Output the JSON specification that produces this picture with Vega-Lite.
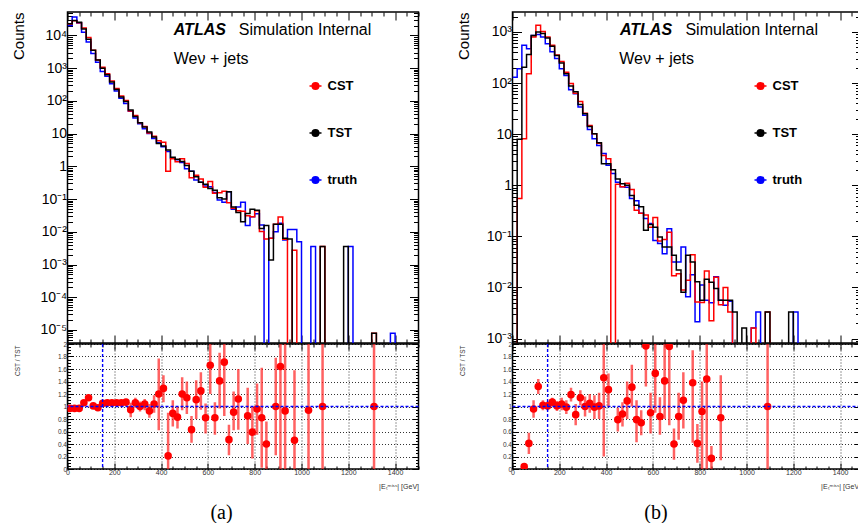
{
  "$schema": "https://vega.github.io/schema/vega-lite/v6.json",
  "padding": {"left": 10.5, "top": 10, "right": 0, "bottom": 0},
  "background": "white",
  "bounds": "full",
  "spacing": 35,
  "resolve": {"scale": {"color": "independent"}, "legend": {"color": "independent"}},
  "config": {
    "font": "Liberation Sans",
    "view": {"stroke": "black", "strokeWidth": 1.5},
    "axis": {"domain": false, "grid": false, "tickColor": "black", "tickWidth": 1, "labelColor": "black", "titleColor": "black", "labelFont": "Liberation Sans", "titleFont": "Liberation Sans", "titleFontWeight": "normal", "labelOverlap": false, "labelFlush": false, "labelBound": false}
  },
  "datasets": {
    "histA": [
      {"x":0,"TST":22900,"CST":22400,"truth":20000},
      {"x":20,"TST":28800,"CST":28200,"truth":36300},
      {"x":40,"TST":25100,"CST":24500,"truth":24000},
      {"x":60,"TST":15800,"CST":17000,"truth":12600},
      {"x":80,"TST":7590,"CST":8710,"truth":6310},
      {"x":100,"TST":3550,"CST":3550,"truth":2820},
      {"x":120,"TST":1780,"CST":1780,"truth":1510},
      {"x":140,"TST":1000,"CST":1070,"truth":794},
      {"x":160,"TST":631,"CST":676,"truth":562},
      {"x":180,"TST":380,"CST":407,"truth":331},
      {"x":200,"TST":224,"CST":240,"truth":200},
      {"x":220,"TST":132,"CST":141,"truth":120},
      {"x":240,"TST":95,"CST":102,"truth":83},
      {"x":260,"TST":52.5,"CST":49,"truth":47.9},
      {"x":280,"TST":33.1,"CST":35.5,"truth":30.2},
      {"x":300,"TST":21.4,"CST":21.4,"truth":20},
      {"x":320,"TST":15.8,"CST":16.6,"truth":14.1},
      {"x":340,"TST":11.2,"CST":10.5,"truth":10},
      {"x":360,"TST":7.94,"CST":8.3,"truth":7.08},
      {"x":380,"TST":5.01,"CST":6.0,"truth":5.25},
      {"x":400,"TST":4.17,"CST":5.4,"truth":3.98},
      {"x":420,"TST":3.16,"CST":0.71,"truth":2.82},
      {"x":440,"TST":1.91,"CST":1.7,"truth":1.78},
      {"x":460,"TST":1.66,"CST":1.38,"truth":1.58},
      {"x":480,"TST":1.41,"CST":1.7,"truth":1.32},
      {"x":500,"TST":1.07,"CST":1.23,"truth":0.851},
      {"x":520,"TST":0.708,"CST":0.447,"truth":0.708},
      {"x":540,"TST":0.479,"CST":0.537,"truth":0.38},
      {"x":560,"TST":0.324,"CST":0.407,"truth":0.324},
      {"x":580,"TST":0.282,"CST":0.229,"truth":0.251},
      {"x":600,"TST":0.209,"CST":0.347,"truth":0.24},
      {"x":620,"TST":0.186,"CST":0.151,"truth":0.158},
      {"x":640,"TST":0.11,"CST":0.155,"truth":0.0933},
      {"x":660,"TST":0.1,"CST":0.174,"truth":0.0794},
      {"x":680,"TST":0.166,"CST":0.0776,"truth":0.166},
      {"x":700,"TST":0.0575,"CST":0.0525,"truth":0.049},
      {"x":720,"TST":0.0389,"CST":0.0437,"truth":0.0575},
      {"x":740,"TST":0.0204,"CST":0.0427,"truth":0.0794},
      {"x":760,"TST":0.0363,"CST":0.0309,"truth":0.0155},
      {"x":780,"TST":0.049,"CST":0.0288,"truth":0.0288},
      {"x":800,"TST":0.0457,"CST":0.0437,"truth":0.0355},
      {"x":820,"TST":0.0126,"CST":0.0102,"truth":0.0162},
      {"x":840,"TST":0.0155,"CST":0.006,"truth":1e-9},
      {"x":860,"TST":0.00138,"CST":0.0063,"truth":0.0063},
      {"x":880,"TST":0.017,"CST":0.017,"truth":0.01},
      {"x":900,"TST":0.017,"CST":0.0282,"truth":0.0182},
      {"x":920,"TST":0.0063,"CST":0.0059,"truth":0.0056},
      {"x":940,"TST":0.006,"CST":1e-9,"truth":0.0117},
      {"x":960,"TST":1e-9,"CST":0.00275,"truth":0.0117},
      {"x":980,"TST":1e-9,"CST":1e-9,"truth":0.005},
      {"x":1000,"TST":1e-9,"CST":1e-9,"truth":1e-9},
      {"x":1020,"TST":1e-9,"CST":1e-9,"truth":1e-9},
      {"x":1040,"TST":1e-9,"CST":1e-9,"truth":0.00355},
      {"x":1060,"TST":1e-9,"CST":1e-9,"truth":1e-9},
      {"x":1080,"TST":0.00355,"CST":0.00355,"truth":1e-9},
      {"x":1100,"TST":1e-9,"CST":1e-9,"truth":1e-9},
      {"x":1120,"TST":1e-9,"CST":1e-9,"truth":1e-9},
      {"x":1140,"TST":1e-9,"CST":1e-9,"truth":1e-9},
      {"x":1160,"TST":1e-9,"CST":1e-9,"truth":1e-9},
      {"x":1180,"TST":0.00355,"CST":1e-9,"truth":1e-9},
      {"x":1200,"TST":1e-9,"CST":1e-9,"truth":0.00355},
      {"x":1220,"TST":1e-9,"CST":1e-9,"truth":1e-9},
      {"x":1240,"TST":1e-9,"CST":1e-9,"truth":1e-9},
      {"x":1260,"TST":1e-9,"CST":1e-9,"truth":1e-9},
      {"x":1280,"TST":1e-9,"CST":1e-9,"truth":1e-9},
      {"x":1300,"TST":7.9e-6,"CST":7.9e-6,"truth":1e-9},
      {"x":1320,"TST":1e-9,"CST":1e-9,"truth":1e-9},
      {"x":1340,"TST":1e-9,"CST":1e-9,"truth":1e-9},
      {"x":1360,"TST":1e-9,"CST":1e-9,"truth":1e-9},
      {"x":1380,"TST":1e-9,"CST":1e-9,"truth":7.9e-6},
      {"x":1400,"TST":1e-9,"CST":1e-9,"truth":1e-9},
      {"x":1420,"TST":1e-9,"CST":1e-9,"truth":1e-9},
      {"x":1440,"TST":1e-9,"CST":1e-9,"truth":1e-9},
      {"x":1460,"TST":1e-9,"CST":1e-9,"truth":1e-9},
      {"x":1480,"TST":1e-9,"CST":1e-9,"truth":1e-9},
      {"x":1500,"TST":1e-9,"CST":1e-9,"truth":1e-9}
    ],
    "histB": [
      {"x":0,"TST":1e-9,"CST":1e-9,"truth":129},
      {"x":20,"TST":7.94,"CST":0.55,"truth":191},
      {"x":40,"TST":204,"CST":8.1,"truth":550},
      {"x":60,"TST":363,"CST":151,"truth":468},
      {"x":80,"TST":851,"CST":794,"truth":851},
      {"x":100,"TST":1000,"CST":1350,"truth":891},
      {"x":120,"TST":933,"CST":1020,"truth":794},
      {"x":140,"TST":759,"CST":794,"truth":589},
      {"x":160,"TST":525,"CST":550,"truth":407},
      {"x":180,"TST":347,"CST":355,"truth":302},
      {"x":200,"TST":245,"CST":263,"truth":191},
      {"x":220,"TST":151,"CST":162,"truth":141},
      {"x":240,"TST":87,"CST":98,"truth":74},
      {"x":260,"TST":67.6,"CST":63,"truth":61.7},
      {"x":280,"TST":38,"CST":43.7,"truth":33.9},
      {"x":300,"TST":25.1,"CST":25.7,"truth":23.4},
      {"x":320,"TST":14.1,"CST":14.8,"truth":12.3},
      {"x":340,"TST":10.2,"CST":10.2,"truth":8.1},
      {"x":360,"TST":6.76,"CST":6.6,"truth":6.0},
      {"x":380,"TST":2.63,"CST":3.8,"truth":4.17},
      {"x":400,"TST":2.63,"CST":3.31,"truth":2.45},
      {"x":420,"TST":2.0,"CST":1e-9,"truth":1.7},
      {"x":440,"TST":1.32,"CST":1.05,"truth":1.15},
      {"x":460,"TST":1.07,"CST":0.93,"truth":0.93},
      {"x":480,"TST":1.0,"CST":1.1,"truth":0.91},
      {"x":500,"TST":0.631,"CST":0.83,"truth":0.55},
      {"x":520,"TST":0.407,"CST":0.324,"truth":0.5},
      {"x":540,"TST":0.38,"CST":0.282,"truth":0.282},
      {"x":560,"TST":0.132,"CST":0.263,"truth":0.224},
      {"x":580,"TST":0.17,"CST":0.151,"truth":0.178},
      {"x":600,"TST":0.151,"CST":0.234,"truth":0.0832},
      {"x":620,"TST":0.0977,"CST":0.0813,"truth":0.0724},
      {"x":640,"TST":0.0617,"CST":0.0871,"truth":0.0457},
      {"x":660,"TST":0.0617,"CST":0.12,"truth":0.141},
      {"x":680,"TST":0.0427,"CST":0.017,"truth":0.0316},
      {"x":700,"TST":0.0219,"CST":0.0186,"truth":0.0316},
      {"x":720,"TST":0.0081,"CST":0.0089,"truth":0.0617},
      {"x":740,"TST":0.0427,"CST":0.0138,"truth":0.0066},
      {"x":760,"TST":0.0316,"CST":0.0437,"truth":0.0178},
      {"x":780,"TST":0.0129,"CST":0.0052,"truth":0.00214},
      {"x":800,"TST":0.0056,"CST":0.0051,"truth":0.0112},
      {"x":820,"TST":0.0145,"CST":0.0209,"truth":0.0056},
      {"x":840,"TST":0.0126,"CST":0.00224,"truth":0.005},
      {"x":860,"TST":0.0095,"CST":0.0158,"truth":0.0162},
      {"x":880,"TST":0.0056,"CST":0.0046,"truth":0.0056},
      {"x":900,"TST":0.0056,"CST":0.01,"truth":0.0045},
      {"x":920,"TST":0.0056,"CST":0.0033,"truth":0.0054},
      {"x":940,"TST":0.0033,"CST":1e-9,"truth":1e-9},
      {"x":960,"TST":1e-9,"CST":1e-9,"truth":1e-9},
      {"x":980,"TST":0.00162,"CST":1e-9,"truth":1e-9},
      {"x":1000,"TST":1e-9,"CST":1e-9,"truth":1e-9},
      {"x":1020,"TST":1e-9,"CST":0.00162,"truth":0.00162},
      {"x":1040,"TST":1e-9,"CST":1e-9,"truth":0.0033},
      {"x":1060,"TST":1e-9,"CST":1e-9,"truth":1e-9},
      {"x":1080,"TST":0.0033,"CST":0.0033,"truth":1e-9},
      {"x":1100,"TST":1e-9,"CST":1e-9,"truth":1e-9},
      {"x":1120,"TST":1e-9,"CST":1e-9,"truth":1e-9},
      {"x":1140,"TST":1e-9,"CST":1e-9,"truth":1e-9},
      {"x":1160,"TST":1e-9,"CST":1e-9,"truth":1e-9},
      {"x":1180,"TST":0.0033,"CST":1e-9,"truth":1e-9},
      {"x":1200,"TST":1e-9,"CST":1e-9,"truth":0.0033},
      {"x":1220,"TST":1e-9,"CST":1e-9,"truth":1e-9},
      {"x":1240,"TST":1e-9,"CST":1e-9,"truth":1e-9},
      {"x":1260,"TST":1e-9,"CST":1e-9,"truth":1e-9},
      {"x":1280,"TST":1e-9,"CST":1e-9,"truth":1e-9},
      {"x":1300,"TST":1e-9,"CST":1e-9,"truth":1e-9},
      {"x":1320,"TST":1e-9,"CST":1e-9,"truth":1e-9},
      {"x":1340,"TST":1e-9,"CST":1e-9,"truth":1e-9},
      {"x":1360,"TST":1e-9,"CST":1e-9,"truth":1e-9},
      {"x":1380,"TST":1e-9,"CST":1e-9,"truth":1e-9},
      {"x":1400,"TST":1e-9,"CST":1e-9,"truth":1e-9},
      {"x":1420,"TST":1e-9,"CST":1e-9,"truth":1e-9},
      {"x":1440,"TST":1e-9,"CST":1e-9,"truth":1e-9},
      {"x":1460,"TST":1e-9,"CST":1e-9,"truth":1e-9},
      {"x":1480,"TST":1e-9,"CST":1e-9,"truth":1e-9},
      {"x":1500,"TST":1e-9,"CST":1e-9,"truth":1e-9}
    ],
    "ratioA": [
      {"x":10,"r":0.97,"lo":0.95,"hi":0.99},
      {"x":30,"r":0.97,"lo":0.95,"hi":0.99},
      {"x":50,"r":0.97,"lo":0.95,"hi":0.99},
      {"x":70,"r":1.06,"lo":1.03,"hi":1.09},
      {"x":90,"r":1.14,"lo":1.1,"hi":1.18},
      {"x":110,"r":1.01,"lo":0.98,"hi":1.04},
      {"x":130,"r":0.98,"lo":0.95,"hi":1.01},
      {"x":150,"r":1.05,"lo":1.02,"hi":1.08},
      {"x":170,"r":1.06,"lo":1.03,"hi":1.09},
      {"x":190,"r":1.06,"lo":1.03,"hi":1.09},
      {"x":210,"r":1.06,"lo":1.03,"hi":1.09},
      {"x":230,"r":1.06,"lo":1.02,"hi":1.1},
      {"x":250,"r":1.07,"lo":1.02,"hi":1.12},
      {"x":270,"r":0.95,"lo":0.83,"hi":1.06},
      {"x":290,"r":1.06,"lo":0.98,"hi":1.14},
      {"x":310,"r":1.0,"lo":0.92,"hi":1.08},
      {"x":330,"r":1.04,"lo":0.94,"hi":1.12},
      {"x":350,"r":0.93,"lo":0.82,"hi":1.04},
      {"x":370,"r":1.04,"lo":0.9,"hi":1.18},
      {"x":390,"r":1.2,"lo":0.62,"hi":1.77},
      {"x":410,"r":1.29,"lo":1.07,"hi":1.5},
      {"x":430,"r":0.21,"lo":0.0,"hi":0.9},
      {"x":450,"r":0.89,"lo":0.68,"hi":1.1},
      {"x":470,"r":0.83,"lo":0.65,"hi":1.0},
      {"x":490,"r":1.2,"lo":0.94,"hi":1.47},
      {"x":510,"r":1.14,"lo":0.88,"hi":1.4},
      {"x":530,"r":0.63,"lo":0.42,"hi":0.85},
      {"x":550,"r":1.11,"lo":0.8,"hi":1.42},
      {"x":570,"r":1.25,"lo":0.95,"hi":1.55},
      {"x":590,"r":0.82,"lo":0.57,"hi":1.05},
      {"x":610,"r":1.66,"lo":1.2,"hi":2.3},
      {"x":630,"r":0.82,"lo":0.55,"hi":1.07},
      {"x":650,"r":1.41,"lo":0.97,"hi":1.86},
      {"x":670,"r":1.71,"lo":0.85,"hi":2.3},
      {"x":690,"r":0.47,"lo":0.22,"hi":0.71},
      {"x":710,"r":0.91,"lo":0.62,"hi":1.24},
      {"x":730,"r":1.12,"lo":0.63,"hi":1.6},
      {"x":770,"r":0.85,"lo":0.4,"hi":1.3},
      {"x":790,"r":0.59,"lo":0.17,"hi":1.0},
      {"x":810,"r":0.96,"lo":0.55,"hi":1.37},
      {"x":830,"r":0.82,"lo":0.02,"hi":1.62},
      {"x":850,"r":0.4,"lo":0.0,"hi":0.76},
      {"x":890,"r":1.0,"lo":0.22,"hi":1.78},
      {"x":910,"r":1.64,"lo":0.0,"hi":2.3},
      {"x":930,"r":0.93,"lo":0.0,"hi":2.3},
      {"x":970,"r":0.46,"lo":0.0,"hi":1.58},
      {"x":1030,"r":0.94,"lo":0.0,"hi":2.3},
      {"x":1090,"r":1.0,"lo":0.0,"hi":2.3},
      {"x":1310,"r":1.0,"lo":0.0,"hi":2.3}
    ],
    "ratioB": [
      {"x":50,"r":0.04,"lo":0.0,"hi":0.08},
      {"x":70,"r":0.41,"lo":0.24,"hi":0.58},
      {"x":90,"r":0.96,"lo":0.82,"hi":1.1},
      {"x":110,"r":1.32,"lo":1.2,"hi":1.44},
      {"x":130,"r":1.02,"lo":0.94,"hi":1.1},
      {"x":150,"r":1.01,"lo":0.94,"hi":1.08},
      {"x":170,"r":1.07,"lo":1.0,"hi":1.14},
      {"x":190,"r":1.01,"lo":0.93,"hi":1.09},
      {"x":210,"r":1.04,"lo":0.94,"hi":1.14},
      {"x":230,"r":0.99,"lo":0.88,"hi":1.1},
      {"x":250,"r":1.19,"lo":1.08,"hi":1.3},
      {"x":270,"r":0.87,"lo":0.7,"hi":1.04},
      {"x":290,"r":1.14,"lo":1.02,"hi":1.26},
      {"x":310,"r":1.0,"lo":0.84,"hi":1.16},
      {"x":330,"r":1.05,"lo":0.9,"hi":1.2},
      {"x":350,"r":0.99,"lo":0.8,"hi":1.18},
      {"x":370,"r":1.01,"lo":0.8,"hi":1.22},
      {"x":390,"r":1.46,"lo":0.2,"hi":2.3},
      {"x":410,"r":1.27,"lo":1.0,"hi":1.53},
      {"x":450,"r":0.79,"lo":0.6,"hi":0.98},
      {"x":470,"r":0.88,"lo":0.68,"hi":1.07},
      {"x":490,"r":1.09,"lo":0.8,"hi":1.4},
      {"x":510,"r":1.31,"lo":1.0,"hi":1.67},
      {"x":530,"r":0.79,"lo":0.43,"hi":1.1},
      {"x":550,"r":0.74,"lo":0.54,"hi":0.94},
      {"x":570,"r":1.97,"lo":1.32,"hi":2.3},
      {"x":590,"r":0.9,"lo":0.57,"hi":1.22},
      {"x":610,"r":1.53,"lo":0.9,"hi":2.3},
      {"x":630,"r":0.84,"lo":0.55,"hi":1.15},
      {"x":650,"r":1.41,"lo":0.8,"hi":2.3},
      {"x":670,"r":1.96,"lo":0.7,"hi":2.3},
      {"x":690,"r":0.4,"lo":0.15,"hi":0.65},
      {"x":710,"r":0.84,"lo":0.47,"hi":1.22},
      {"x":730,"r":1.1,"lo":0.65,"hi":1.55},
      {"x":770,"r":1.38,"lo":0.42,"hi":1.9},
      {"x":790,"r":0.41,"lo":0.1,"hi":0.72},
      {"x":810,"r":0.92,"lo":0.0,"hi":1.4},
      {"x":830,"r":1.44,"lo":0.0,"hi":2.3},
      {"x":850,"r":0.17,"lo":0.0,"hi":0.37},
      {"x":890,"r":0.82,"lo":0.14,"hi":1.5},
      {"x":1090,"r":1.0,"lo":0.0,"hi":2.3}
    ]
  },
  "hconcat": [
    {
      "bounds": "flush",
      "spacing": 1,
      "resolve": {"scale": {"color": "independent"}, "legend": {"color": "independent"}},
      "title": {"text": "(a)", "orient": "bottom", "anchor": "middle", "font": "Liberation Serif", "fontSize": 20, "fontWeight": "normal", "offset": 13, "dx": 6},
      "vconcat": [
        {
          "width": 351, "height": 331,
          "resolve": {"axis": {"x": "independent", "y": "independent"}},
          "layer": [
            {
              "data": {"name": "histA"},
              "transform": [{"fold": ["truth", "CST", "TST"], "as": ["series", "count"]}],
              "mark": {"type": "line", "interpolate": "step-after", "strokeWidth": 1.5, "clip": true, "strokeJoin": "miter"},
              "encoding": {
                "x": {"field": "x", "type": "quantitative", "scale": {"domain": [0, 1500], "nice": false, "zero": false},
                  "axis": {"orient": "bottom", "title": null, "labels": false, "values": [0,50,100,150,200,250,300,350,400,450,500,550,600,650,700,750,800,850,900,950,1000,1050,1100,1150,1200,1250,1300,1350,1400,1450,1500],
                    "tickSize": {"condition": {"test": "datum.value % 200 === 0", "value": -8}, "value": -4}}},
                "y": {"field": "count", "type": "quantitative", "scale": {"type": "log", "domain": [0.000004, 52000], "nice": false},
                  "axis": {"orient": "left", "title": "Counts", "titleFontSize": 15, "titleX": -48.7, "titleY": 0, "titleAlign": "right", "titleBaseline": "middle", "titleAngle": -90,
                    "labelFontSize": {"condition": {"test": "abs(log(datum.value)/LN10-round(log(datum.value)/LN10))<0.001", "value": 14}, "value": 0}, "labelPadding": 10,
                    "values": [0.000005,0.000006,0.000007,0.000008,0.000009,0.00001,0.00002,0.00003,0.00004,0.00005,0.00006,0.00007,0.00008,0.00009,0.0001,0.0002,0.0003,0.0004,0.0005,0.0006,0.0007,0.0008,0.0009,0.001,0.002,0.003,0.004,0.005,0.006,0.007,0.008,0.009,0.01,0.02,0.03,0.04,0.05,0.06,0.07,0.08,0.09,0.1,0.2,0.3,0.4,0.5,0.6,0.7,0.8,0.9,1,2,3,4,5,6,7,8,9,10,20,30,40,50,60,70,80,90,100,200,300,400,500,600,700,800,900,1000,2000,3000,4000,5000,6000,7000,8000,9000,10000,20000,30000,40000,50000],
                    "labelExpr": "datum.value===10000?'10⁴':datum.value===1000?'10³':datum.value===100?'10²':datum.value===10?'10':datum.value===1?'1':datum.value===0.1?'10⁻¹':datum.value===0.01?'10⁻²':datum.value===0.001?'10⁻³':datum.value===0.0001?'10⁻⁴':datum.value===0.00001?'10⁻⁵':''",
                    "tickSize": {"condition": {"test": "abs(log(datum.value)/LN10-round(log(datum.value)/LN10))<0.001", "value": -9}, "value": -5}}},
                "color": {"field": "series", "type": "nominal", "scale": {"domain": ["CST", "TST", "truth"], "range": ["#ff0000", "#000000", "#0000ff"]},
                  "legend": {"orient": "none", "legendX": 241, "legendY": 67, "title": null, "direction": "vertical", "padding": 0,
                    "symbolType": "M-1,0L1,0M0.55,0A0.55,0.55,0,1,1,-0.55,0A0.55,0.55,0,1,1,0.55,0M0.35,0A0.35,0.35,0,1,1,-0.35,0A0.35,0.35,0,1,1,0.35,0M0.15,0A0.15,0.15,0,1,1,-0.15,0A0.15,0.15,0,1,1,0.15,0",
                    "symbolSize": 144, "symbolStrokeWidth": 1.5, "labelFontSize": 13, "labelFontWeight": "bold", "labelFont": "Liberation Sans", "labelColor": "black", "rowPadding": 33, "labelOffset": 5}}
              }
            },
            {
              "data": {"values": [{"x": 454, "y": 14500, "label": "ATLAS"}]},
              "mark": {"type": "text", "align": "left", "baseline": "middle", "fontSize": 16, "fontWeight": "bold", "fontStyle": "italic", "font": "Liberation Sans"},
              "encoding": {
                "x": {"field": "x", "type": "quantitative", "axis": {"orient": "top", "title": null, "labels": false, "values": [0,50,100,150,200,250,300,350,400,450,500,550,600,650,700,750,800,850,900,950,1000,1050,1100,1150,1200,1250,1300,1350,1400,1450,1500],
                    "tickSize": {"condition": {"test": "datum.value % 200 === 0", "value": -8}, "value": -4}}},
                "y": {"field": "y", "type": "quantitative", "axis": {"orient": "right", "title": null, "labels": false,
                    "values": [0.000005,0.000006,0.000007,0.000008,0.000009,0.00001,0.00002,0.00003,0.00004,0.00005,0.00006,0.00007,0.00008,0.00009,0.0001,0.0002,0.0003,0.0004,0.0005,0.0006,0.0007,0.0008,0.0009,0.001,0.002,0.003,0.004,0.005,0.006,0.007,0.008,0.009,0.01,0.02,0.03,0.04,0.05,0.06,0.07,0.08,0.09,0.1,0.2,0.3,0.4,0.5,0.6,0.7,0.8,0.9,1,2,3,4,5,6,7,8,9,10,20,30,40,50,60,70,80,90,100,200,300,400,500,600,700,800,900,1000,2000,3000,4000,5000,6000,7000,8000,9000,10000,20000,30000,40000,50000],
                    "tickSize": {"condition": {"test": "abs(log(datum.value)/LN10-round(log(datum.value)/LN10))<0.001", "value": -9}, "value": -5}}},
                "text": {"field": "label"}
              }
            },
            {
              "data": {"values": [{"x": 732, "y": 14500, "label": "Simulation Internal"}, {"x": 454, "y": 1900, "label": "Weν + jets"}]},
              "mark": {"type": "text", "align": "left", "baseline": "middle", "fontSize": 16, "font": "Liberation Sans"},
              "encoding": {
                "x": {"field": "x", "type": "quantitative", "axis": null},
                "y": {"field": "y", "type": "quantitative", "axis": null},
                "text": {"field": "label"}
              }
            }
          ]
        },
        {
          "width": 351, "height": 125,
          "resolve": {"axis": {"x": "independent", "y": "independent"}},
          "layer": [
            {
              "data": {"name": "ratioA"},
              "mark": {"type": "rule", "color": "#ff2020", "strokeWidth": 2.5, "opacity": 0.7, "clip": true},
              "encoding": {
                "x": {"field": "x", "type": "quantitative", "scale": {"domain": [0, 1500], "nice": false, "zero": false},
                  "axis": {"orient": "bottom", "values": [0,50,100,150,200,250,300,350,400,450,500,550,600,650,700,750,800,850,900,950,1000,1050,1100,1150,1200,1250,1300,1350,1400,1450,1500],
                    "labelExpr": "datum.value % 200 === 0 && datum.value < 1500 ? format(datum.value, 'd') : ''", "labelFontSize": 7, "labelPadding": 5, "labelColor": "#333333",
                    "tickSize": {"condition": {"test": "datum.value % 200 === 0", "value": -6}, "value": -3},
                    "title": "|Eₜᵐⁱˢˢ| [GeV]", "titleFontSize": 7, "titleColor": "#333333", "titleX": 351, "titleY": 17, "titleAlign": "right", "titleBaseline": "middle"}},
                "y": {"field": "lo", "type": "quantitative", "scale": {"domain": [0, 2], "nice": false, "zero": false},
                  "axis": {"orient": "left", "values": [0,0.05,0.1,0.15,0.2,0.25,0.3,0.35,0.4,0.45,0.5,0.55,0.6,0.65,0.7,0.75,0.8,0.85,0.9,0.95,1,1.05,1.1,1.15,1.2,1.25,1.3,1.35,1.4,1.45,1.5,1.55,1.6,1.65,1.7,1.75,1.8,1.85,1.9,1.95,2],
                    "labelExpr": "abs(datum.value*5-round(datum.value*5))<0.001 ? format(datum.value, '.1~f') : ''", "labelFontSize": 6.5, "labelPadding": 7, "labelColor": "#333333",
                    "tickSize": {"condition": {"test": "abs(datum.value*5-round(datum.value*5))<0.001", "value": -6}, "value": -3},
                    "title": "CST / TST", "titleFontSize": 6.5, "titleColor": "#333333", "titleX": -50, "titleY": 1, "titleAlign": "right", "titleBaseline": "middle", "titleAngle": -90}},
                "y2": {"field": "hi"}
              }
            },
            {
              "data": {"name": "ratioA"},
              "mark": {"type": "point", "filled": true, "color": "#ff0000", "size": 57, "opacity": 1, "clip": true},
              "encoding": {
                "x": {"field": "x", "type": "quantitative", "axis": null},
                "y": {"field": "r", "type": "quantitative", "axis": null}
              }
            },
            {
              "data": {"values": [{"ref": 1}]},
              "mark": {"type": "rule", "color": "#0000ff", "strokeDash": [3, 2], "strokeWidth": 1.4},
              "encoding": {
                "y": {"field": "ref", "type": "quantitative",
                  "axis": {"orient": "right", "title": null, "labels": false, "grid": true, "gridColor": "black", "gridDash": [1, 2], "gridWidth": 0.8,
                    "gridOpacity": {"condition": {"test": "abs(datum.value*5-round(datum.value*5))<0.001", "value": 1}, "value": 0},
                    "values": [0,0.05,0.1,0.15,0.2,0.25,0.3,0.35,0.4,0.45,0.5,0.55,0.6,0.65,0.7,0.75,0.8,0.85,0.9,0.95,1,1.05,1.1,1.15,1.2,1.25,1.3,1.35,1.4,1.45,1.5,1.55,1.6,1.65,1.7,1.75,1.8,1.85,1.9,1.95,2],
                    "tickSize": {"condition": {"test": "abs(datum.value*5-round(datum.value*5))<0.001", "value": -6}, "value": -3}}}
              }
            },
            {
              "data": {"values": [{"cut": 150}]},
              "mark": {"type": "rule", "color": "#0000ff", "strokeDash": [3, 2], "strokeWidth": 1.4},
              "encoding": {
                "x": {"field": "cut", "type": "quantitative",
                  "axis": {"orient": "top", "title": null, "labels": false, "grid": true, "gridColor": "black", "gridDash": [1, 2], "gridWidth": 0.8,
                    "gridOpacity": {"condition": {"test": "datum.value % 200 === 0", "value": 1}, "value": 0},
                    "values": [0,50,100,150,200,250,300,350,400,450,500,550,600,650,700,750,800,850,900,950,1000,1050,1100,1150,1200,1250,1300,1350,1400,1450,1500],
                    "tickSize": {"condition": {"test": "datum.value % 200 === 0", "value": -6}, "value": -3}}}
              }
            }
          ]
        }
      ]
    },
    {
      "bounds": "flush",
      "spacing": 1,
      "resolve": {"scale": {"color": "independent"}, "legend": {"color": "independent"}},
      "title": {"text": "(b)", "orient": "bottom", "anchor": "middle", "font": "Liberation Serif", "fontSize": 20, "fontWeight": "normal", "offset": 13, "dx": -3},
      "vconcat": [
        {
          "width": 348, "height": 331,
          "resolve": {"axis": {"x": "independent", "y": "independent"}},
          "layer": [
            {
              "data": {"name": "histB"},
              "transform": [{"fold": ["truth", "CST", "TST"], "as": ["series", "count"]}],
              "mark": {"type": "line", "interpolate": "step-after", "strokeWidth": 1.5, "clip": true, "strokeJoin": "miter"},
              "encoding": {
                "x": {"field": "x", "type": "quantitative", "scale": {"domain": [0, 1487], "nice": false, "zero": false},
                  "axis": {"orient": "bottom", "title": null, "labels": false, "values": [0,50,100,150,200,250,300,350,400,450,500,550,600,650,700,750,800,850,900,950,1000,1050,1100,1150,1200,1250,1300,1350,1400,1450],
                    "tickSize": {"condition": {"test": "datum.value % 200 === 0", "value": -8}, "value": -4}}},
                "y": {"field": "count", "type": "quantitative", "scale": {"type": "log", "domain": [0.00082, 2450], "nice": false},
                  "axis": {"orient": "left", "title": "Counts", "titleFontSize": 15, "titleX": -48.7, "titleY": 0, "titleAlign": "right", "titleBaseline": "middle", "titleAngle": -90,
                    "labelFontSize": {"condition": {"test": "abs(log(datum.value)/LN10-round(log(datum.value)/LN10))<0.001", "value": 14}, "value": 0}, "labelPadding": 10,
                    "values": [0.0009,0.001,0.002,0.003,0.004,0.005,0.006,0.007,0.008,0.009,0.01,0.02,0.03,0.04,0.05,0.06,0.07,0.08,0.09,0.1,0.2,0.3,0.4,0.5,0.6,0.7,0.8,0.9,1,2,3,4,5,6,7,8,9,10,20,30,40,50,60,70,80,90,100,200,300,400,500,600,700,800,900,1000,2000],
                    "labelExpr": "datum.value===1000?'10³':datum.value===100?'10²':datum.value===10?'10':datum.value===1?'1':datum.value===0.1?'10⁻¹':datum.value===0.01?'10⁻²':datum.value===0.001?'10⁻³':''",
                    "tickSize": {"condition": {"test": "abs(log(datum.value)/LN10-round(log(datum.value)/LN10))<0.001", "value": -9}, "value": -5}}},
                "color": {"field": "series", "type": "nominal", "scale": {"domain": ["CST", "TST", "truth"], "range": ["#ff0000", "#000000", "#0000ff"]},
                  "legend": {"orient": "none", "legendX": 241, "legendY": 67, "title": null, "direction": "vertical", "padding": 0,
                    "symbolType": "M-1,0L1,0M0.55,0A0.55,0.55,0,1,1,-0.55,0A0.55,0.55,0,1,1,0.55,0M0.35,0A0.35,0.35,0,1,1,-0.35,0A0.35,0.35,0,1,1,0.35,0M0.15,0A0.15,0.15,0,1,1,-0.15,0A0.15,0.15,0,1,1,0.15,0",
                    "symbolSize": 144, "symbolStrokeWidth": 1.5, "labelFontSize": 13, "labelFontWeight": "bold", "labelFont": "Liberation Sans", "labelColor": "black", "rowPadding": 33, "labelOffset": 5}}
              }
            },
            {
              "data": {"values": [{"x": 459, "y": 1100, "label": "ATLAS"}]},
              "mark": {"type": "text", "align": "left", "baseline": "middle", "fontSize": 16, "fontWeight": "bold", "fontStyle": "italic", "font": "Liberation Sans"},
              "encoding": {
                "x": {"field": "x", "type": "quantitative", "axis": {"orient": "top", "title": null, "labels": false, "values": [0,50,100,150,200,250,300,350,400,450,500,550,600,650,700,750,800,850,900,950,1000,1050,1100,1150,1200,1250,1300,1350,1400,1450],
                    "tickSize": {"condition": {"test": "datum.value % 200 === 0", "value": -8}, "value": -4}}},
                "y": {"field": "y", "type": "quantitative", "axis": {"orient": "right", "title": null, "labels": false,
                    "values": [0.0009,0.001,0.002,0.003,0.004,0.005,0.006,0.007,0.008,0.009,0.01,0.02,0.03,0.04,0.05,0.06,0.07,0.08,0.09,0.1,0.2,0.3,0.4,0.5,0.6,0.7,0.8,0.9,1,2,3,4,5,6,7,8,9,10,20,30,40,50,60,70,80,90,100,200,300,400,500,600,700,800,900,1000,2000],
                    "tickSize": {"condition": {"test": "abs(log(datum.value)/LN10-round(log(datum.value)/LN10))<0.001", "value": -9}, "value": -5}}},
                "text": {"field": "label"}
              }
            },
            {
              "data": {"values": [{"x": 739, "y": 1100, "label": "Simulation Internal"}, {"x": 456, "y": 295, "label": "Weν + jets"}]},
              "mark": {"type": "text", "align": "left", "baseline": "middle", "fontSize": 16, "font": "Liberation Sans"},
              "encoding": {
                "x": {"field": "x", "type": "quantitative", "axis": null},
                "y": {"field": "y", "type": "quantitative", "axis": null},
                "text": {"field": "label"}
              }
            }
          ]
        },
        {
          "width": 348, "height": 125,
          "resolve": {"axis": {"x": "independent", "y": "independent"}},
          "layer": [
            {
              "data": {"name": "ratioB"},
              "mark": {"type": "rule", "color": "#ff2020", "strokeWidth": 2.5, "opacity": 0.7, "clip": true},
              "encoding": {
                "x": {"field": "x", "type": "quantitative", "scale": {"domain": [0, 1487], "nice": false, "zero": false},
                  "axis": {"orient": "bottom", "values": [0,50,100,150,200,250,300,350,400,450,500,550,600,650,700,750,800,850,900,950,1000,1050,1100,1150,1200,1250,1300,1350,1400,1450],
                    "labelExpr": "datum.value % 200 === 0 ? format(datum.value, 'd') : ''", "labelFontSize": 7, "labelPadding": 5, "labelColor": "#333333",
                    "tickSize": {"condition": {"test": "datum.value % 200 === 0", "value": -6}, "value": -3},
                    "title": "|Eₜᵐⁱˢˢ| [GeV]", "titleFontSize": 7, "titleColor": "#333333", "titleX": 348, "titleY": 17, "titleAlign": "right", "titleBaseline": "middle"}},
                "y": {"field": "lo", "type": "quantitative", "scale": {"domain": [0, 2], "nice": false, "zero": false},
                  "axis": {"orient": "left", "values": [0,0.05,0.1,0.15,0.2,0.25,0.3,0.35,0.4,0.45,0.5,0.55,0.6,0.65,0.7,0.75,0.8,0.85,0.9,0.95,1,1.05,1.1,1.15,1.2,1.25,1.3,1.35,1.4,1.45,1.5,1.55,1.6,1.65,1.7,1.75,1.8,1.85,1.9,1.95,2],
                    "labelExpr": "abs(datum.value*5-round(datum.value*5))<0.001 ? format(datum.value, '.1~f') : ''", "labelFontSize": 6.5, "labelPadding": 7, "labelColor": "#333333",
                    "tickSize": {"condition": {"test": "abs(datum.value*5-round(datum.value*5))<0.001", "value": -6}, "value": -3},
                    "title": "CST / TST", "titleFontSize": 6.5, "titleColor": "#333333", "titleX": -50, "titleY": 1, "titleAlign": "right", "titleBaseline": "middle", "titleAngle": -90}},
                "y2": {"field": "hi"}
              }
            },
            {
              "data": {"name": "ratioB"},
              "mark": {"type": "point", "filled": true, "color": "#ff0000", "size": 57, "opacity": 1, "clip": true},
              "encoding": {
                "x": {"field": "x", "type": "quantitative", "axis": null},
                "y": {"field": "r", "type": "quantitative", "axis": null}
              }
            },
            {
              "data": {"values": [{"ref": 1}]},
              "mark": {"type": "rule", "color": "#0000ff", "strokeDash": [3, 2], "strokeWidth": 1.4},
              "encoding": {
                "y": {"field": "ref", "type": "quantitative",
                  "axis": {"orient": "right", "title": null, "labels": false, "grid": true, "gridColor": "black", "gridDash": [1, 2], "gridWidth": 0.8,
                    "gridOpacity": {"condition": {"test": "abs(datum.value*5-round(datum.value*5))<0.001", "value": 1}, "value": 0},
                    "values": [0,0.05,0.1,0.15,0.2,0.25,0.3,0.35,0.4,0.45,0.5,0.55,0.6,0.65,0.7,0.75,0.8,0.85,0.9,0.95,1,1.05,1.1,1.15,1.2,1.25,1.3,1.35,1.4,1.45,1.5,1.55,1.6,1.65,1.7,1.75,1.8,1.85,1.9,1.95,2],
                    "tickSize": {"condition": {"test": "abs(datum.value*5-round(datum.value*5))<0.001", "value": -6}, "value": -3}}}
              }
            },
            {
              "data": {"values": [{"cut": 150}]},
              "mark": {"type": "rule", "color": "#0000ff", "strokeDash": [3, 2], "strokeWidth": 1.4},
              "encoding": {
                "x": {"field": "cut", "type": "quantitative",
                  "axis": {"orient": "top", "title": null, "labels": false, "grid": true, "gridColor": "black", "gridDash": [1, 2], "gridWidth": 0.8,
                    "gridOpacity": {"condition": {"test": "datum.value % 200 === 0", "value": 1}, "value": 0},
                    "values": [0,50,100,150,200,250,300,350,400,450,500,550,600,650,700,750,800,850,900,950,1000,1050,1100,1150,1200,1250,1300,1350,1400,1450],
                    "tickSize": {"condition": {"test": "datum.value % 200 === 0", "value": -6}, "value": -3}}}
              }
            }
          ]
        }
      ]
    }
  ]
}
